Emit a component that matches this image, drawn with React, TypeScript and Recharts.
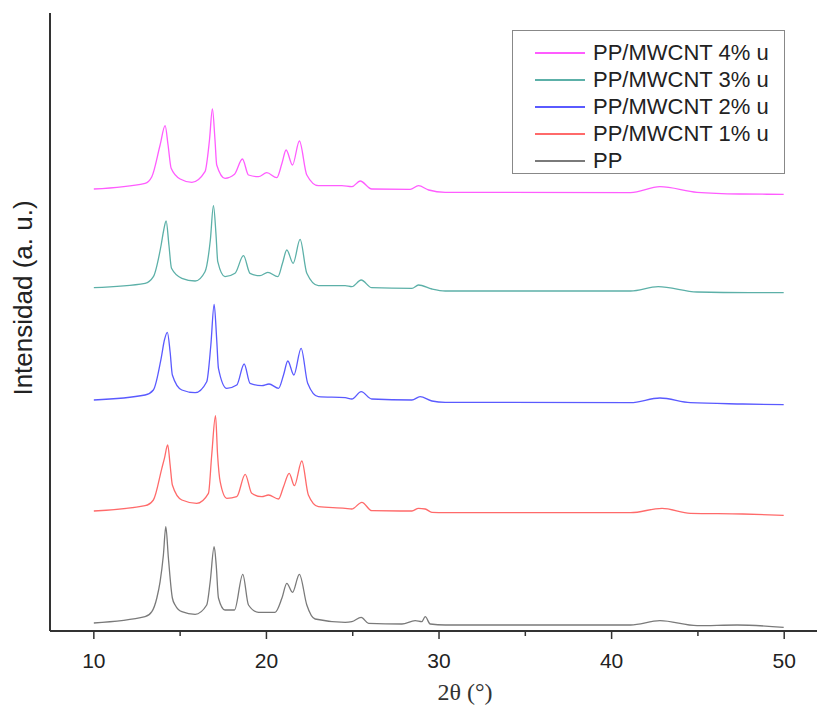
import { Legend, Line, LineChart, XAxis, YAxis } from "recharts";

// 2θ (°) / intensity (a. u.) pairs, one list per sample
const PP: [number, number][] = [
  [10, 8], [12.97, 14.3], [13.36, 19.3], [13.65, 33], [13.84, 49.3], [14.03, 76], [14.17, 104.3],
  [14.32, 73], [14.55, 33], [14.71, 26], [15.1, 19.3], [15.87, 16.7], [16.54, 26], [16.74, 49],
  [16.97, 84.3], [17.09, 66], [17.22, 33], [17.6, 21], [18.15, 21], [18.63, 56.7], [18.96, 26],
  [19.54, 18.7], [20.5, 18.7], [20.9, 33], [21.18, 47.7], [21.51, 38.7], [21.91, 56.7], [22.34, 26],
  [22.82, 12], [24.56, 8.7], [24.95, 9.3], [25.49, 13.7], [25.92, 7.7], [27.85, 7], [28.62, 10.3],
  [29.0, 9.3], [29.2, 14.3], [29.49, 7], [30.36, 6], [35.0, 6], [41.1, 6], [42.8, 10.3],
  [44.95, 5.3], [47.27, 6], [49.97, 3.7],
];

const PP_1: [number, number][] = [
  [10, 120], [12.97, 125.3], [13.45, 131], [13.94, 162.7], [14.09, 172.7], [14.28, 186], [14.42, 166],
  [14.55, 146], [15.1, 131], [15.96, 127.7], [16.64, 137.7], [16.83, 176], [17.05, 215.3], [17.17, 176],
  [17.32, 149.3], [17.7, 132.7], [18.28, 134.3], [18.77, 156.7], [19.15, 137.7], [19.73, 134.3],
  [20.12, 136], [20.7, 132], [20.99, 144.3], [21.32, 157.7], [21.62, 145.3], [22.05, 170], [22.43, 136],
  [23.01, 124.3], [24.56, 122.7], [24.95, 122], [25.53, 128.7], [26.1, 120.3], [28.43, 120],
  [28.81, 122.7], [29.2, 122], [29.59, 118.7], [30.36, 118.3], [41.1, 118.3], [42.92, 122.7],
  [44.56, 117.7], [47.6, 117], [49.97, 115.7],
];

const PP_2: [number, number][] = [
  [10, 231], [12.97, 236], [13.45, 241], [13.9, 272.7], [14.09, 291], [14.26, 298.7], [14.42, 279],
  [14.55, 256], [15.1, 241], [15.87, 238.3], [16.54, 249.3], [16.78, 286], [16.97, 326.7], [17.12, 291],
  [17.22, 262.7], [17.7, 242.7], [18.28, 246], [18.71, 267], [19.05, 247.7], [19.73, 245.3],
  [20.15, 247], [20.7, 242.7], [20.99, 256], [21.24, 270], [21.59, 256], [22.01, 282.7], [22.39, 247.7],
  [23.01, 234.3], [24.56, 233.3], [24.95, 232], [25.49, 239.3], [26.1, 232], [28.43, 231],
  [28.9, 234.3], [29.59, 230], [30.36, 228.7], [41.1, 228.3], [42.8, 233], [44.56, 228.3],
  [47.6, 227], [49.97, 226.3],
];

const PP_3: [number, number][] = [
  [10, 343.3], [12.97, 347.7], [13.45, 354.3], [13.9, 386], [14.05, 401], [14.19, 410], [14.35, 386],
  [14.5, 362.7], [15.1, 352.7], [15.87, 350], [16.44, 359.3], [16.75, 391], [16.93, 425.3], [17.08, 396],
  [17.18, 369.3], [17.6, 354.3], [18.18, 357.7], [18.67, 375.3], [19.05, 357.7], [19.63, 355.3],
  [20.08, 358.7], [20.66, 354.3], [20.93, 367.7], [21.18, 381], [21.55, 367.7], [21.95, 391.7],
  [22.34, 357.7], [23.01, 345.3], [24.56, 345.3], [24.95, 344.3], [25.49, 351], [26.1, 343.3],
  [28.43, 342.7], [28.81, 346], [29.59, 342], [30.36, 340], [41.1, 340], [42.7, 344.3],
  [44.95, 339], [48.0, 338.3], [49.97, 338.3],
];

const PP_4: [number, number][] = [
  [10, 442], [12.97, 447.7], [13.36, 454.3], [13.84, 486], [14.13, 505.3], [14.3, 486], [14.48, 462.7],
  [15.0, 452], [15.68, 448.7], [16.44, 459.3], [16.7, 491], [16.87, 522], [17.02, 491], [17.12, 466],
  [17.6, 452.7], [18.15, 456.7], [18.61, 472], [18.96, 456], [19.54, 454.3], [20.02, 458.3],
  [20.6, 453.3], [20.9, 467.7], [21.14, 481], [21.51, 466], [21.91, 490], [22.34, 456],
  [23.01, 445.3], [24.37, 445.3], [24.95, 444.3], [25.43, 450], [26.1, 442], [28.33, 441.7],
  [28.81, 445.3], [29.4, 441], [30.36, 438.7], [41.1, 438.3], [42.8, 444.3], [44.95, 438.7],
  [47.4, 437], [49.97, 436.7],
];

const X_TICKS = [10, 15, 20, 25, 30, 35, 40, 45, 50];

const SERIES = [
  { name: "PP", points: PP, color: "#7a7a7a" },
  { name: "PP/MWCNT 1% u", points: PP_1, color: "#ff6a6a" },
  { name: "PP/MWCNT 2% u", points: PP_2, color: "#5a5aff" },
  { name: "PP/MWCNT 3% u", points: PP_3, color: "#5cb0a8" },
  { name: "PP/MWCNT 4% u", points: PP_4, color: "#ff5cff" },
];

const AXIS = "#333";
const SANS = "'Liberation Sans', Arial, sans-serif";

function XTick(props: any) {
  const { x, y, payload } = props;
  const major = payload.value % 10 === 0;
  return (
    <g>
      <line x1={x} x2={x} y1={y} y2={y + (major ? 8 : 5)} stroke={AXIS} strokeWidth={1.5} />
      {major && (
        <text x={x} y={y + 37} textAnchor="middle" fontSize={21} fill="#222" fontFamily={SANS}>
          {payload.value}
        </text>
      )}
    </g>
  );
}

function LegendBox(props: any) {
  const items = [...(props.payload ?? [])].reverse();
  return (
    <div
      style={{
        border: "1px solid #888",
        boxSizing: "border-box",
        width: 273,
        height: 144,
        padding: "8px 0 0 22px",
        background: "#fff",
        fontFamily: SANS,
        fontSize: 22,
        color: "#222",
      }}
    >
      {items.map((it: any) => (
        <div key={it.value} style={{ display: "flex", alignItems: "center", height: 27 }}>
          <span style={{ width: 50, height: 2, background: it.color, marginRight: 8 }} />
          <span style={{ lineHeight: "27px", whiteSpace: "nowrap" }}>{it.value}</span>
        </div>
      ))}
    </div>
  );
}

export default function App() {
  return (
    <div style={{ position: "absolute", left: 0, top: 0 }}>
      <LineChart width={817} height={706} margin={{ top: 13, right: 0, bottom: 0, left: 0 }}>
        <XAxis
          dataKey="x"
          type="number"
          domain={[7.46, 51.9]}
          ticks={X_TICKS}
          allowDataOverflow
          height={75}
          tickSize={0}
          tickMargin={0}
          tickLine={false}
          axisLine={{ stroke: AXIS, strokeWidth: 2 }}
          tick={<XTick />}
          interval={0}
          label={{
            content: () => (
              <text
                x={465}
                y={700}
                textAnchor="middle"
                fontSize={24}
                fill="#333"
                fontFamily="'Liberation Serif', 'Times New Roman', serif"
              >
                2θ (°)
              </text>
            ),
          }}
        />
        <YAxis
          type="number"
          domain={[0, 618]}
          width={50}
          tick={false}
          tickLine={false}
          axisLine={{ stroke: AXIS, strokeWidth: 2 }}
          label={{
            content: () => (
              <text
                x={32}
                y={298}
                transform="rotate(-90 32 298)"
                textAnchor="middle"
                fontSize={26}
                fill="#222"
                fontFamily={SANS}
              >
                Intensidad (a. u.)
              </text>
            ),
          }}
        />
        {SERIES.map((s) => (
          <Line
            key={s.name}
            name={s.name}
            data={s.points.map(([x, y]) => ({ x, y }))}
            dataKey="y"
            type="monotone"
            stroke={s.color}
            strokeWidth={1.3}
            dot={false}
            activeDot={false}
            isAnimationActive={false}
          />
        ))}
        <Legend
          layout="vertical"
          align="center"
          verticalAlign="middle"
          content={<LegendBox />}
          wrapperStyle={{ left: 512, top: 30, width: 273, height: 144 }}
        />
      </LineChart>
    </div>
  );
}
